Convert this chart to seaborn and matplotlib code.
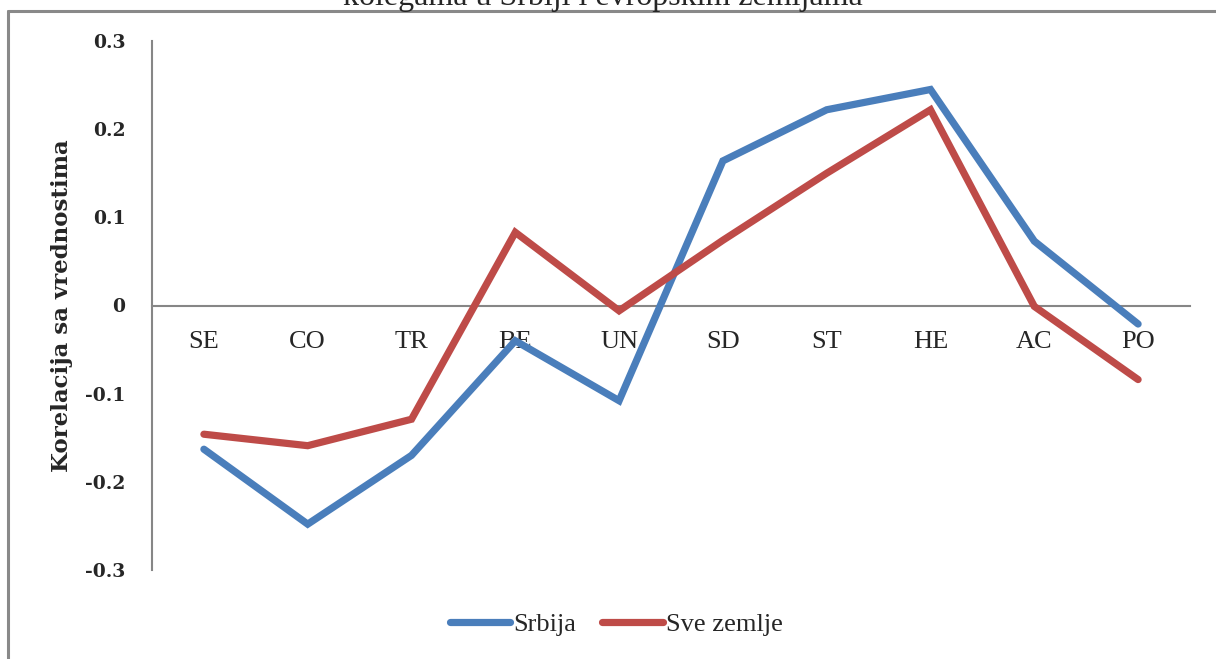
import matplotlib
matplotlib.use("Agg")
import matplotlib.pyplot as plt
from matplotlib.lines import Line2D
import pandas as pd
import seaborn as sns

# Value dimensions (Schwartz) on the horizontal axis
categories = ["SE", "CO", "TR", "BE", "UN", "SD", "ST", "HE", "AC", "PO"]
srbija = [-0.163, -0.248, -0.170, -0.040, -0.108, 0.164, 0.222, 0.245, 0.073, -0.021]
sve_zemlje = [-0.146, -0.159, -0.129, 0.083, -0.006, 0.074, 0.150, 0.222, -0.001, -0.084]
series_names = ["Srbija", "Sve zemlje"]
y_ticks = [-0.3, -0.2, -0.1, 0.0, 0.1, 0.2, 0.3]
y_tick_labels = ["-0.3", "-0.2", "-0.1", "0", "0.1", "0.2", "0.3"]

df = pd.DataFrame({
    "kategorija": categories * 2,
    "korelacija": srbija + sve_zemlje,
    "grupa": [series_names[0]] * len(categories) + [series_names[1]] * len(categories),
})

sns.set_theme(style="white")
plt.rcParams["font.family"] = ["Liberation Serif", "DejaVu Serif"]

W, H = 1216, 659
fig = plt.figure(figsize=(W / 100, H / 100), dpi=100)
ax = fig.add_axes([152 / W, 1 - 570 / H, (1190 - 152) / W, (570 - 41) / H])

palette = {"Srbija": "#4A7EBB", "Sve zemlje": "#BE4B48"}
sns.lineplot(data=df, x="kategorija", y="korelacija", hue="grupa", palette=palette,
             sort=False, linewidth=5.2, ax=ax, zorder=3, legend=False)
for ln in ax.lines:
    ln.set_solid_capstyle("round")
    ln.set_solid_joinstyle("miter")

# Horizontal axis sits on the zero line (set before tick styling: this resets ticks)
for side in ["top", "right"]:
    ax.spines[side].set_visible(False)
ax.spines["bottom"].set_position(("data", 0))
ax.spines["bottom"].set_color("#868686")
ax.spines["bottom"].set_linewidth(1.5)
ax.spines["left"].set_color("#868686")
ax.spines["left"].set_linewidth(1.5)

ax.set_xlim(-0.5, len(categories) - 0.5)
ax.set_ylim(-0.3, 0.3)
ax.set_yticks(y_ticks)
ax.set_yticklabels(y_tick_labels, fontsize=13.5, fontweight="bold", family="DejaVu Serif")
ax.set_xticks(range(len(categories)))
ax.set_xticklabels(categories, fontsize=19)
ax.tick_params(axis="x", length=0, pad=18)
ax.tick_params(axis="y", length=0, pad=19)

ax.set_xlabel("")
ax.set_ylabel("Korelacija sa vrednostima", fontsize=16.5, fontweight="bold",
              family="DejaVu Serif", labelpad=9)

handles = [Line2D([0], [0], color=palette[n], lw=5.2, solid_capstyle="round") for n in series_names]
fig.legend(handles, series_names, loc="center", bbox_to_anchor=(616 / W, 1 - 624 / H),
           ncol=2, frameon=False, fontsize=19, handlelength=2.3, handletextpad=0.1,
           columnspacing=1.0)

# Chart-area frame and the title line running off the top edge
fig.add_artist(Line2D([8 / W, 1], [1 - 10.5 / H, 1 - 10.5 / H], color="#898989", lw=2.2))
fig.add_artist(Line2D([8 / W, 8 / W], [0, 1 - 10.5 / H], color="#898989", lw=2.2))
fig.text(603 / W, 1 - 5.5 / H, "kolegama u Srbiji i evropskim zemljama", ha="center",
         va="baseline", fontsize=23)

fig.savefig("out.png", dpi=100)
